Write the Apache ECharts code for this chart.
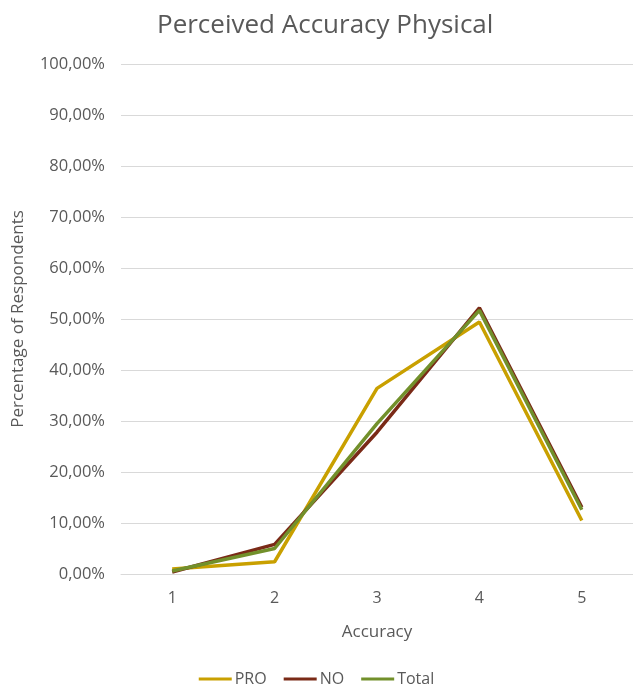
<!DOCTYPE html>
<html>
<head>
<meta charset="utf-8">
<script src="https://cdn.jsdelivr.net/npm/echarts@6/dist/echarts.min.js"></script>
<style>
  html, body { margin: 0; padding: 0; background: #ffffff; }
  #chart { width: 633px; height: 690px; }
</style>
</head>
<body>
<div id="chart"></div>
<script>
// Accuracy rating categories on the x axis
const categories = ['1', '2', '3', '4', '5'];

// Share of respondents (%) per rating
const proValues = [1.0, 2.4, 36.4, 49.4, 10.5];
const noValues = [0.4, 5.8, 27.8, 52.2, 13.1];
const totalValues = [0.6, 5.0, 29.5, 51.7, 12.6];

const seriesNames = ['PRO', 'NO', 'Total'];
const seriesColors = ['#c9a000', '#7a2a17', '#72902b'];

const textColor = '#595959';
const fontFamily = '"Open Sans", "Noto Sans", sans-serif';

const chart = echarts.init(document.getElementById('chart'));

function lineSeries(name, data, color) {
  return {
    name: name,
    type: 'line',
    data: data,
    symbol: 'none',
    lineStyle: { color: color, width: 3.5 },
    itemStyle: { color: color },
    animation: false
  };
}

chart.setOption({
  backgroundColor: '#ffffff',
  textStyle: { fontFamily: fontFamily },
  title: {
    text: 'Perceived Accuracy Physical',
    left: 152,
    top: 8,
    textStyle: { color: textColor, fontSize: 26, fontWeight: 'normal', fontFamily: fontFamily }
  },
  legend: {
    data: seriesNames,
    bottom: -2,
    left: 'center',
    icon: 'rect',
    itemWidth: 33,
    itemHeight: 3,
    itemGap: 17,
    textStyle: { color: textColor, fontSize: 16, fontFamily: fontFamily, padding: [0, 0, 0, -2] }
  },
  grid: { left: 121, right: 0, top: 64, bottom: 116 },
  xAxis: {
    type: 'category',
    data: categories,
    boundaryGap: true,
    name: 'Accuracy',
    nameLocation: 'middle',
    nameGap: 50,
    nameTextStyle: { color: textColor, fontSize: 17, fontFamily: fontFamily },
    axisLine: { lineStyle: { color: '#d9d9d9', width: 1 } },
    axisTick: { show: false },
    axisLabel: { color: textColor, fontSize: 16, margin: 16, fontFamily: fontFamily }
  },
  yAxis: {
    type: 'value',
    min: 0,
    max: 100,
    interval: 10,
    name: 'Percentage of Respondents',
    nameLocation: 'middle',
    nameGap: 94,
    nameTextStyle: { color: textColor, fontSize: 17, fontFamily: fontFamily },
    axisLine: { show: false },
    axisTick: { show: false },
    splitLine: { lineStyle: { color: '#d9d9d9', width: 1 } },
    axisLabel: {
      color: textColor,
      fontSize: 16.5,
      margin: 16,
      fontFamily: fontFamily,
      formatter: function (v) { return v.toFixed(2).replace('.', ',') + '%'; }
    }
  },
  series: [
    lineSeries(seriesNames[0], proValues, seriesColors[0]),
    lineSeries(seriesNames[1], noValues, seriesColors[1]),
    lineSeries(seriesNames[2], totalValues, seriesColors[2])
  ]
});
</script>
</body>
</html>
